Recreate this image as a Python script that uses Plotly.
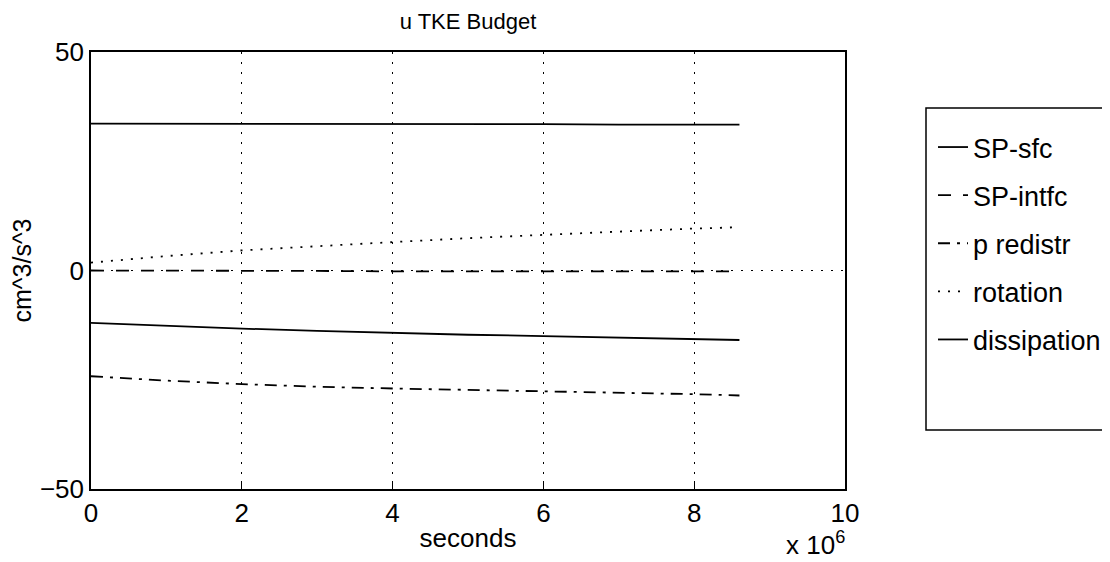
import plotly.graph_objects as go

# time in seconds
t = [0, 1e6, 2e6, 3e6, 4e6, 5e6, 6e6, 7e6, 8e6, 8.6e6]

sp_sfc      = [33.6, 33.6, 33.6, 33.5, 33.5, 33.5, 33.5, 33.4, 33.4, 33.4]
sp_intfc    = [0.0, 0.0, -0.1, -0.1, -0.2, -0.2, -0.2, -0.2, -0.2, -0.2]
p_redistr   = [-24.2, -25.2, -26.0, -26.6, -27.0, -27.3, -27.6, -27.9, -28.3, -28.6]
rotation    = [1.8, 3.3, 4.6, 5.6, 6.5, 7.4, 8.2, 8.9, 9.6, 9.9]
dissipation = [-12.0, -12.7, -13.3, -13.8, -14.3, -14.7, -15.0, -15.4, -15.7, -15.9]

names = ["SP-sfc", "SP-intfc", "p redistr", "rotation", "dissipation"]
series = [sp_sfc, sp_intfc, p_redistr, rotation, dissipation]
dashes = ["solid", "13px,12px", "12px,7px,3px,7px", "2px,8px", "solid"]

x_tickvals = [0, 2e6, 4e6, 6e6, 8e6, 10e6]
x_ticktext = ["0", "2", "4", "6", "8", "10"]
y_tickvals = [-50, 0, 50]

FONT = "Liberation Sans, Arial, Helvetica, sans-serif"

# plot-area geometry (figure pixels)
L, T, PW, PH = 83, 44, 754, 437
W, H = 1110, 562
R = W - L - PW
B = H - T - PH
BOT = T + PH  # bottom of plot area in figure px


def px(xf):
    return (xf - L) / PW


def py(yf):
    return (BOT - yf) / PH


fig = go.Figure()
for i, (n, s, d) in enumerate(zip(names, series, dashes)):
    fig.add_trace(go.Scatter(
        x=t, y=s, mode="lines", name=n, legendgroup=str(i),
        line=dict(color="black", width=1.8, dash=d),
    ))

axis_common = dict(
    showline=True, linecolor="black", linewidth=1.6, mirror=True,
    ticks="inside", ticklen=8, tickcolor="black", tickwidth=1.2,
    showgrid=True, gridcolor="black", gridwidth=1.3, griddash="1.5px,8.5px",
    zeroline=False, automargin=False,
    tickfont=dict(family=FONT, size=26, color="black"),
)

fig.update_layout(
    width=W, height=H,
    paper_bgcolor="white", plot_bgcolor="white",
    margin=dict(l=L, r=R, t=T, b=B, autoexpand=False),
    title=dict(text="u TKE Budget", x=460 / W, xanchor="center",
               y=1 - 13 / H, yanchor="middle",
               font=dict(family=FONT, size=22, color="black")),
    xaxis=dict(range=[0, 10e6], tickvals=x_tickvals, ticktext=x_ticktext,
               title=dict(text="seconds", font=dict(family=FONT, size=26, color="black"),
                          standoff=2),
               **axis_common),
    yaxis=dict(range=[-50, 50], tickvals=y_tickvals,
               title=dict(text="cm^3/s^3", font=dict(family=FONT, size=25, color="black"),
                          standoff=11),
               **axis_common),
    showlegend=True,
    legend=dict(
        x=px(925), xanchor="left",
        y=py(115), yanchor="top",
        bgcolor="rgba(0,0,0,0)", borderwidth=0,
        font=dict(family=FONT, size=27, color="black"),
        tracegroupgap=10,
    ),
    shapes=[dict(type="rect", xref="paper", yref="paper",
                 x0=px(918), x1=px(1098), y0=py(422), y1=py(100),
                 line=dict(color="black", width=1.5), fillcolor="rgba(0,0,0,0)")],
    annotations=[dict(text="x 10<sup>6</sup>", xref="paper", yref="paper",
                      x=px(807), y=py(535),
                      xanchor="center", yanchor="middle", showarrow=False,
                      font=dict(family=FONT, size=26, color="black"))],
)

fig.write_html("out.html")
